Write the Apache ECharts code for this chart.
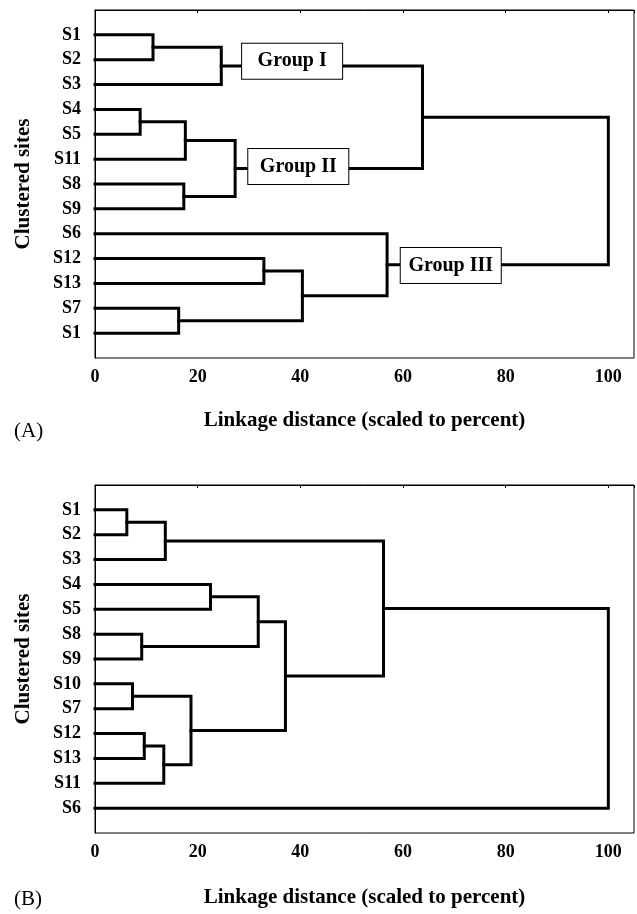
<!DOCTYPE html>
<html><head><meta charset="utf-8">
<script src="https://cdn.jsdelivr.net/npm/echarts@6/dist/echarts.min.js"></script>
<style>html,body{margin:0;padding:0;background:#fff}#c{width:637px;height:914px}</style>
</head><body><div id="c"></div>
<script>
// Panel A
const leavesA = ['S1','S2','S3','S4','S5','S11','S8','S9','S6','S12','S13','S7','S1'];
// merges: [child a, child b, linkage distance]; leaf ids 0..12, clusters 13+
const mergesA = [[0,1,11.3],[13,2,24.6],[3,4,8.8],[15,5,17.6],[6,7,17.3],[16,17,27.3],[14,18,63.8],[9,10,32.9],[11,12,16.3],[20,21,40.4],[8,22,56.9],[19,23,100]];
const groupNamesA = ['Group I','Group II','Group III'];
const groupXA = [38.4, 39.6, 69.3];
const groupYA = [2.06, 6.3, 10.28];
// Panel B
const leavesB = ['S1','S2','S3','S4','S5','S8','S9','S10','S7','S12','S13','S11','S6'];
const mergesB = [[0,1,6.2],[13,2,13.7],[3,4,22.5],[5,6,9.1],[15,16,31.8],[7,8,7.3],[9,10,9.6],[19,11,13.4],[18,20,18.7],[17,21,37.1],[14,22,56.2],[23,12,100]];
const xTicks = [0,20,40,60,80,100];

function links(leaves, merges){
  const nodes = leaves.map((n,i)=>({h:0,y:i+1}));
  const out = [];
  merges.forEach(m=>{
    const a = nodes[m[0]], b = nodes[m[1]], h = m[2];
    out.push({coords:[[a.h,a.y],[h,a.y],[h,b.y],[b.h,b.y]]});
    nodes.push({h:h, y:(a.y+b.y)/2});
  });
  return out;
}

const F = 'Liberation Serif, Times New Roman, serif';
function xAxis(idx){
  return {gridIndex:idx, type:'value', min:0, max:105, interval:20,
    name:'Linkage distance (scaled to percent)', nameLocation:'middle', nameGap: idx===0?52:54,
    nameTextStyle:{fontFamily:F, fontWeight:'bold', fontSize:21, color:'#000'},
    axisLine:{show:true, lineStyle:{color:'#000', width:1}},
    axisTick:{show:true, length:3, lineStyle:{color:'#000'}},
    splitLine:{show:false},
    axisLabel:{fontFamily:F, fontWeight:'bold', fontSize:18, color:'#000', margin:10, showMaxLabel:true,
      formatter:v=> xTicks.indexOf(v)>=0 ? String(v) : ''}
  };
}
function yAxis(idx, leaves){
  return {gridIndex:idx, type:'value', min:0, max:14, interval:1, inverse:true,
    name:'Clustered sites', nameLocation:'middle', nameGap:61, nameRotate:90,
    nameTextStyle:{fontFamily:F, fontWeight:'bold', fontSize:21, color:'#000'},
    axisLine:{show:true, lineStyle:{color:'#000', width:1}},
    axisTick:{show:false}, splitLine:{show:false},
    axisLabel:{fontFamily:F, fontWeight:'bold', fontSize:18, color:'#000', margin:14,
      formatter:v=> (v>=1 && v<=leaves.length) ? leaves[v-1] : ''}
  };
}
const lineStyle = {color:'#000', width:3, join:'miter', cap:'square', opacity:1};

const chart = echarts.init(document.getElementById('c'), null, {renderer:'canvas'});
chart.setOption({
  animation:false,
  backgroundColor:'#fff',
  grid:[
    {left:95, top:10, width:540, height:348, show:true, borderColor:'#000', borderWidth:1, backgroundColor:'transparent'},
    {left:95, top:485, width:540, height:348, show:true, borderColor:'#000', borderWidth:1, backgroundColor:'transparent'}
  ],
  xAxis:[xAxis(0), xAxis(1)],
  yAxis:[yAxis(0, leavesA), yAxis(1, leavesB)],
  series:[
    {type:'lines', coordinateSystem:'cartesian2d', xAxisIndex:0, yAxisIndex:0, polyline:true,
      lineStyle:lineStyle, data:links(leavesA, mergesA), silent:true},
    {type:'lines', coordinateSystem:'cartesian2d', xAxisIndex:1, yAxisIndex:1, polyline:true,
      lineStyle:lineStyle, data:links(leavesB, mergesB), silent:true},
    {type:'scatter', xAxisIndex:0, yAxisIndex:0, symbolSize:0, zlevel:1, z:10, silent:true,
      data: groupNamesA.map((n,i)=>({name:n, value:[groupXA[i], groupYA[i]]})),
      label:{show:true, position:'inside', formatter:p=>p.name, fontFamily:F, fontWeight:'bold', fontSize:20, color:'#000', opacity:1,
        backgroundColor:'#fff', borderColor:'#000', borderWidth:1, width:100, lineHeight:21, padding:[7,0], align:'center'},
      emphasis:{disabled:true}
    }
  ],
  graphic:[
    {type:'text', left:14, top:421, style:{text:'(A)', fontFamily:F, fontSize:21, fill:'#000'}},
    {type:'text', left:14, top:889, style:{text:'(B)', fontFamily:F, fontSize:21, fill:'#000'}}
  ]
});
</script></body></html>
